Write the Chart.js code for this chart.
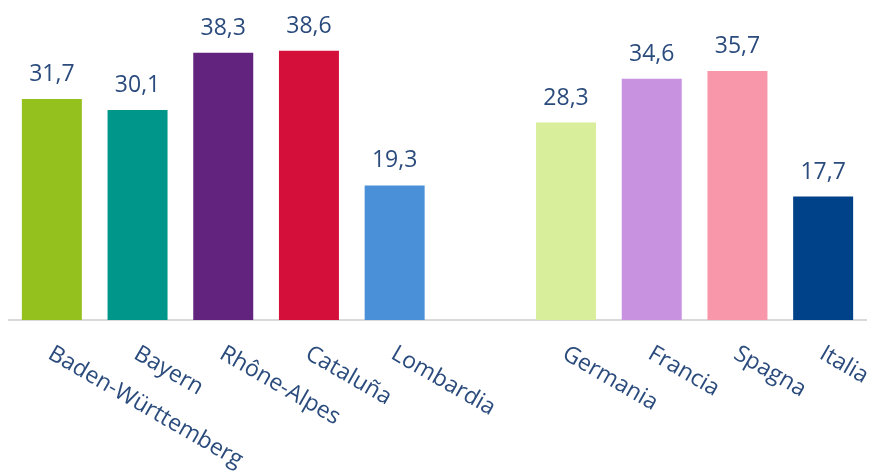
<!DOCTYPE html>
<html>
<head>
<meta charset="utf-8">
<script src="https://cdn.jsdelivr.net/npm/chart.js@4/dist/chart.umd.min.js"></script>
<style>
  html, body { margin: 0; padding: 0; background: #fff; }
  #wrap { width: 875px; height: 475px; position: relative; }
</style>
</head>
<body>
<div id="wrap"><canvas id="chart"></canvas></div>
<script>
// regions on the left, countries on the right, one empty slot between them
const regions = ['Baden-Württemberg', 'Bayern', 'Rhône-Alpes', 'Cataluña', 'Lombardia', '', 'Germania', 'Francia', 'Spagna', 'Italia'];
const shares = [31.7, 30.1, 38.3, 38.6, 19.3, null, 28.3, 34.6, 35.7, 17.7];
const barColors = ['#95c11f', '#00968a', '#62237f', '#d4103a', '#4a90d9', '#ffffff', '#d9ee9a', '#c892e0', '#f797a9', '#00428a'];

const textColor = '#2a4b7c';
const fontFamily = '"Open Sans", "Noto Sans", sans-serif';

const fmt = (v) => v.toFixed(1).replace('.', ',');

// value labels over each bar
const valueLabels = {
  id: 'valueLabels',
  afterDatasetsDraw(chart) {
    const ctx = chart.ctx;
    const meta = chart.getDatasetMeta(0);
    ctx.save();
    ctx.fillStyle = textColor;
    ctx.font = '23px ' + fontFamily;
    ctx.textAlign = 'center';
    ctx.textBaseline = 'alphabetic';
    meta.data.forEach((bar, i) => {
      const v = shares[i];
      if (v == null) return;
      ctx.fillText(fmt(v), bar.x, bar.y - 18);
    });
    ctx.restore();
  },
};

// slanted category names, starting under each bar and running down to the right
const slantedLabels = {
  id: 'slantedLabels',
  afterDraw(chart) {
    const ctx = chart.ctx;
    const xScale = chart.scales.x;
    ctx.save();
    ctx.fillStyle = textColor;
    ctx.font = '23px ' + fontFamily;
    ctx.textAlign = 'left';
    ctx.textBaseline = 'top';
    regions.forEach((name, i) => {
      if (!name) return;
      const x = xScale.getPixelForValue(i) + 4;
      ctx.save();
      ctx.translate(x, chart.chartArea.bottom + 22);
      ctx.rotate(Math.PI / 6);
      ctx.fillText(name, 0, 0);
      ctx.restore();
    });
    ctx.restore();
  },
};

new Chart(document.getElementById('chart'), {
  type: 'bar',
  data: {
    labels: regions,
    datasets: [{
      data: shares,
      backgroundColor: barColors,
      borderWidth: 0,
      barPercentage: 0.7,
      categoryPercentage: 1,
    }],
  },
  options: {
    responsive: true,
    maintainAspectRatio: false,
    animation: false,
    layout: { padding: { top: 41, left: 9, right: 9, bottom: 0 } },
    plugins: {
      legend: { display: false },
      tooltip: { enabled: false },
    },
    scales: {
      x: {
        grid: { display: false },
        border: { display: true, color: '#d9d9d9', width: 2 },
        ticks: { display: false },
        afterFit: (scale) => { scale.height = 155; },
      },
      y: {
        display: false,
        min: 0,
        max: 40,
      },
    },
  },
  plugins: [valueLabels, slantedLabels],
});
</script>
</body>
</html>
